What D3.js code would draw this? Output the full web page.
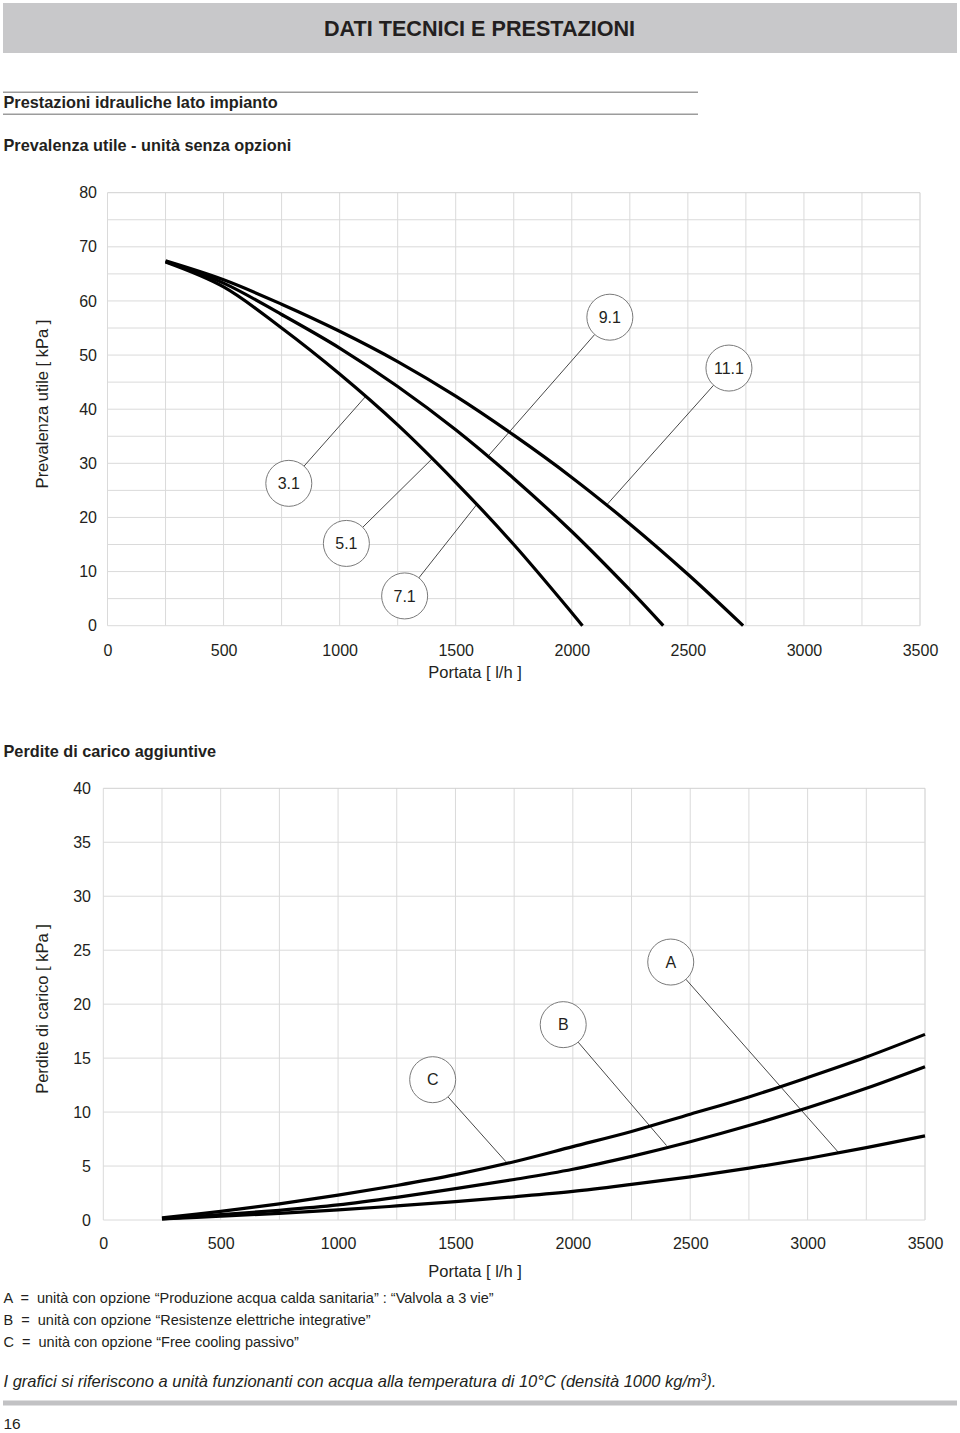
<!DOCTYPE html>
<html><head><meta charset="utf-8">
<script src="https://cdn.jsdelivr.net/npm/d3@7"></script>
<style>
body{margin:0;background:#fff}
text{font-family:"Liberation Sans",Arial,Helvetica,sans-serif;fill:#231f20}
.pre{white-space:pre}
</style>
</head><body>
<svg id="c" width="960" height="1433"></svg>
<script>
// ---------- data ----------
const flowTicks = [0,500,1000,1500,2000,2500,3000,3500];
const headTicks = [0,10,20,30,40,50,60,70,80];
const lossTicks = [0,5,10,15,20,25,30,35,40];

// Prevalenza utile curves (flow l/h, head kPa)
const curveLowFlow  = [250,500,750,1000,1250,1500,1750,2000,2046];
const curveLowHead  = [67.2,62.6,55.0,46.5,37.1,26.5,15.0,2.4,0];
const curveMidFlow  = [250,500,750,1000,1250,1500,1750,2000,2250,2394];
const curveMidHead  = [67.3,63.3,57.5,51.3,44.2,36.2,27.2,17.4,6.6,0];
const curveHighFlow = [250,500,750,1000,1250,1500,1750,2000,2250,2500,2738];
const curveHighHead = [67.4,63.9,59.4,54.4,48.8,42.4,35.2,27.4,18.8,9.5,0];

// labels of top chart
const topLabels      = ["3.1","5.1","7.1","9.1","11.1"];
const topLabelFlow   = [781,1029,1280,2164,2677];
const topLabelHead   = [26.3,15.2,5.5,57.0,47.6];
const topTargetFlow  = [1115,1402,1589,1639,2150];
const topTargetHead  = [42.5,31.0,22.3,31.3,22.3];

// Perdite di carico aggiuntive curves (flow l/h, loss kPa)
const lossFlow = [250,500,750,1000,1250,1500,1750,2000,2250,2500,2750,3000,3250,3500];
const lossC    = [0.2,0.8,1.5,2.3,3.2,4.2,5.4,6.8,8.2,9.8,11.4,13.2,15.1,17.2];
const lossB    = [0.1,0.5,0.9,1.4,2.1,2.9,3.75,4.7,5.9,7.25,8.75,10.4,12.2,14.2];
const lossA    = [0.1,0.35,0.62,0.93,1.3,1.7,2.15,2.65,3.3,4.0,4.8,5.7,6.7,7.8];

const botLabels     = ["A","B","C"];
const botLabelFlow  = [2417,1959,1403];
const botLabelLoss  = [23.9,18.1,13.0];
const botTargetFlow = [3134,2399,1715];
const botTargetLoss = [6.2,6.9,5.4];

const legendLines = [
  "A  =  unità con opzione \u201cProduzione acqua calda sanitaria\u201d : \u201cValvola a 3 vie\u201d",
  "B  =  unità con opzione \u201cResistenze elettriche integrative\u201d",
  "C  =  unità con opzione \u201cFree cooling passivo\u201d"
];

// ---------- drawing ----------
const svg = d3.select("#c");

// header band
svg.append("rect").attr("x",3).attr("y",3).attr("width",954).attr("height",50).attr("fill","#c8c8ca");
svg.append("text").attr("x",479.5).attr("y",36).attr("text-anchor","middle")
  .attr("font-size",21.6).attr("font-weight","bold").text("DATI TECNICI E PRESTAZIONI");

svg.append("line").attr("x1",3).attr("x2",698).attr("y1",92.3).attr("y2",92.3).attr("stroke","#9c9c9c").attr("stroke-width",1.5);
svg.append("line").attr("x1",3).attr("x2",698).attr("y1",114.3).attr("y2",114.3).attr("stroke","#9c9c9c").attr("stroke-width",1.5);
svg.append("text").attr("x",3.5).attr("y",107.7).attr("font-size",16.3).attr("font-weight","bold").attr("fill","#2a2a2a").text("Prestazioni idrauliche lato impianto");
svg.append("text").attr("x",3.5).attr("y",150.5).attr("font-size",16.3).attr("font-weight","bold").attr("fill","#2a2a2a").text("Prevalenza utile - unità senza opzioni");

function drawChart(cfg){
  const g = svg.append("g");
  const x = d3.scaleLinear().domain([0,3500]).range(cfg.xr);
  const y = d3.scaleLinear().domain(cfg.yd).range(cfg.yr);
  // grid
  const vx = d3.range(0,3501,250);
  const hy = d3.range(cfg.yd[0], cfg.yd[1]+0.001, cfg.hStep);
  g.selectAll(".vg").data(vx).join("line")
    .attr("x1",d=>x(d)).attr("x2",d=>x(d)).attr("y1",y(cfg.yd[0])).attr("y2",y(cfg.yd[1]))
    .attr("stroke",d=>d===3500?"#cbcbcb":"#dadada").attr("stroke-width",1);
  g.selectAll(".hg").data(hy).join("line")
    .attr("x1",x(0)).attr("x2",x(3500)).attr("y1",d=>y(d)).attr("y2",d=>y(d))
    .attr("stroke",d=>d===cfg.yd[1]?"#d0d0d0":"#dadada").attr("stroke-width",1);
  // axes labels
  const xa = d3.axisBottom(x).tickValues(flowTicks).tickFormat(d3.format("d")).tickSize(0).tickPadding(0);
  const xg = g.append("g").attr("transform",`translate(0,${cfg.xLabelY})`).call(xa);
  xg.select(".domain").remove();
  xg.selectAll("text").attr("font-size",16).attr("fill","#231f20").attr("dy","0.35em").attr("y",0);
  const ya = d3.axisLeft(y).tickValues(cfg.yTicks).tickFormat(d3.format("d")).tickSize(0).tickPadding(0);
  const yg = g.append("g").attr("transform",`translate(${cfg.yLabelX},0)`).call(ya);
  yg.select(".domain").remove();
  yg.selectAll("text").attr("font-size",16).attr("fill","#231f20").attr("x",0);
  g.selectAll(".tick text").attr("font-family",'"Liberation Sans",Arial,sans-serif');
  // axis titles
  g.append("text").attr("x",cfg.xTitleX).attr("y",cfg.xTitleY).attr("text-anchor","middle")
    .attr("font-size",16.5).attr("dy","0.35em").text("Portata [ l/h ]");
  g.append("text").attr("transform",`translate(${cfg.yTitleX},${cfg.yTitleY}) rotate(-90)`)
    .attr("text-anchor","middle").attr("font-size",16.5).attr("dy","0.35em").text(cfg.yTitle);
  // leaders
  cfg.labels.forEach((lab,i)=>{
    const cx=x(cfg.lf[i]), cy=y(cfg.lv[i]), tx=x(cfg.tf[i]), ty=y(cfg.tv[i]);
    const dx=tx-cx, dy=ty-cy, L=Math.hypot(dx,dy), r=23;
    g.append("line").attr("x1",cx+dx/L*r).attr("y1",cy+dy/L*r).attr("x2",tx).attr("y2",ty)
      .attr("stroke","#333").attr("stroke-width",0.9);
  });
  // curves
  const line = d3.line().x(d=>x(d[0])).y(d=>y(d[1])).curve(d3.curveCatmullRom.alpha(0.5));
  cfg.curves.forEach(c=>{
    g.append("path").attr("d",line(c)).attr("fill","none").attr("stroke","#000").attr("stroke-width",3.2);
  });
  // bubbles
  cfg.labels.forEach((lab,i)=>{
    const cx=x(cfg.lf[i]), cy=y(cfg.lv[i]);
    g.append("circle").attr("cx",cx).attr("cy",cy).attr("r",23).attr("fill","#fff").attr("stroke","#7a7a7a").attr("stroke-width",1);
    g.append("text").attr("x",cx).attr("y",cy).attr("text-anchor","middle").attr("dy","0.36em").attr("font-size",16).text(lab);
  });
}

drawChart({
  xr:[107.5,920], yd:[0,80], yr:[625.7,192.7], hStep:5, yTicks:headTicks,
  xLabelY:650, yLabelX:97, xTitleX:475, xTitleY:672, yTitleX:42, yTitleY:404,
  yTitle:"Prevalenza utile [ kPa ]",
  labels:topLabels, lf:topLabelFlow, lv:topLabelHead, tf:topTargetFlow, tv:topTargetHead,
  curves:[
    d3.zip(curveLowFlow,curveLowHead),
    d3.zip(curveMidFlow,curveMidHead),
    d3.zip(curveHighFlow,curveHighHead)
  ]
});

svg.append("text").attr("x",3.5).attr("y",757).attr("font-size",16.3).attr("font-weight","bold").attr("fill","#2a2a2a").text("Perdite di carico aggiuntive");

drawChart({
  xr:[103.3,925], yd:[0,40], yr:[1220,788.3], hStep:5, yTicks:lossTicks,
  xLabelY:1243.5, yLabelX:91, xTitleX:475, xTitleY:1271.5, yTitleX:42, yTitleY:1009,
  yTitle:"Perdite di carico [ kPa ]",
  labels:botLabels, lf:botLabelFlow, lv:botLabelLoss, tf:botTargetFlow, tv:botTargetLoss,
  curves:[
    d3.zip(lossFlow,lossC),
    d3.zip(lossFlow,lossB),
    d3.zip(lossFlow,lossA)
  ]
});

// legend
svg.selectAll(".leg").data(legendLines).join("text").attr("class","pre")
  .attr("x",3.5).attr("y",(d,i)=>1303+i*22).attr("font-size",14.5).text(d=>d);

const foot = svg.append("text").attr("x",3.5).attr("y",1387).attr("font-size",16.5).attr("font-style","italic");
foot.append("tspan").text("I grafici si riferiscono a unità funzionanti con acqua alla temperatura di 10°C (densità 1000 kg/m");
foot.append("tspan").attr("font-size",10).attr("dy",-6).text("3");
foot.append("tspan").attr("dy",6).text(").");

svg.append("rect").attr("x",3).attr("y",1400.5).attr("width",954).attr("height",5).attr("fill","#c2c2c4");
svg.append("text").attr("x",3.5).attr("y",1428.5).attr("font-size",15.5).text("16");
</script>
</body></html>
